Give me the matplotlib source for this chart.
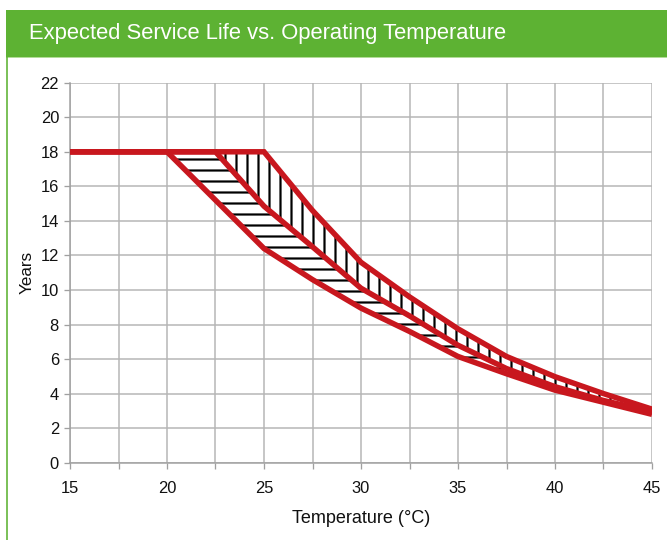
import matplotlib
matplotlib.use("Agg")
import matplotlib.pyplot as plt
from matplotlib.patches import Rectangle
from matplotlib.lines import Line2D
from matplotlib import font_manager

# ---- data ----
temps = [15, 17.5, 20, 22.5, 25, 27.5, 30, 32.5, 35, 37.5, 40, 42.5, 45]
upper = [18, 18, 18, 18, 18, 14.6, 11.6, 9.6, 7.75, 6.15, 4.98, 4.0, 3.1]
middle = [18, 18, 18, 18, 14.85, 12.5, 10.1, 8.5, 6.8, 5.45, 4.4, 3.6, 2.95]
lower = [18, 18, 18, 15.2, 12.4, 10.6, 8.95, 7.6, 6.15, 5.15, 4.2, 3.5, 2.8]
x_major = [15, 20, 25, 30, 35, 40, 45]
x_minor = [17.5, 22.5, 27.5, 32.5, 37.5, 42.5]
y_ticks = [0, 2, 4, 6, 8, 10, 12, 14, 16, 18, 20, 22]
title = "Expected Service Life vs. Operating Temperature"
xlabel = "Temperature (°C)"
ylabel = "Years"

DPI = 66
W, H = 667, 540
pt = lambda px: px * 72.0 / DPI

avail = {f.name for f in font_manager.fontManager.ttflist}
if "Liberation Sans Narrow" in avail:
    fam = ["Liberation Sans Narrow", "DejaVu Sans"]
    narrow = True
else:
    fam = ["Liberation Sans", "DejaVu Sans"]
    narrow = False

plt.rcParams['font.family'] = fam
plt.rcParams['hatch.linewidth'] = pt(2.2)
plt.rcParams['hatch.color'] = 'black'

GREEN = '#5db233'
RED = '#c8171e'
GRID = '#b5b5b5'

fig = plt.figure(figsize=(W / DPI, H / DPI), dpi=DPI)
fig.patch.set_facecolor('white')

# header bar
fig.patches.append(Rectangle((6 / W, 1 - 57 / H), 1 - 6 / W, 47 / H,
                             transform=fig.transFigure, facecolor=GREEN,
                             edgecolor='none', zorder=0))
fig.lines.append(Line2D([6 / W, 1], [1 - 56.5 / H, 1 - 56.5 / H],
                        transform=fig.transFigure, color='#b2dc98', lw=pt(1)))
fig.lines.append(Line2D([7.2 / W, 7.2 / W], [0, 1 - 57 / H],
                        transform=fig.transFigure, color=GREEN, lw=pt(1.6)))
fig.text(29 / W, 1 - 34 / H, title, color='white',
         fontsize=pt(25 if narrow else 22), va='center', ha='left')

ax = fig.add_axes([70 / W, 1 - 462.7 / H, (652 - 70) / W, (462.7 - 82.7) / H])
ax.set_xlim(15, 45)
ax.set_ylim(0, 22)

ax.set_xticks(x_major)
ax.set_xticks(x_minor, minor=True)
ax.set_yticks(y_ticks)
ax.grid(True, which='both', color=GRID, lw=pt(1.5), zorder=0)
ax.set_axisbelow(True)
for s in ['top', 'right']:
    ax.spines[s].set_visible(False)
for s in ['left', 'bottom']:
    ax.spines[s].set_color('#a0a0a0')
    ax.spines[s].set_linewidth(pt(1.5))
ax.tick_params(which='both', direction='out', length=pt(6), width=pt(1.3),
               color='#a0a0a0', labelsize=pt(19 if narrow else 16.5),
               labelcolor='#111111')
ax.tick_params(axis='x', pad=pt(12))
ax.tick_params(axis='y', pad=pt(5))

ax.fill_between(temps, middle, upper, facecolor='white', edgecolor='black',
                hatch='|', linewidth=0, zorder=2)
ax.fill_between(temps, lower, middle, facecolor='white', edgecolor='black',
                hatch='-', linewidth=0, zorder=2)

for ys in (upper, middle, lower):
    ax.plot(temps, ys, color=RED, lw=pt(5.5), solid_joinstyle='miter',
            solid_capstyle='butt', zorder=3)

ax.set_xlabel(xlabel, fontsize=pt(19.5 if narrow else 18), labelpad=pt(14),
              color='#111111')
ax.set_ylabel(ylabel, fontsize=pt(19.5 if narrow else 17), labelpad=pt(6),
              color='#111111')

fig.savefig('out.png', dpi=DPI)
